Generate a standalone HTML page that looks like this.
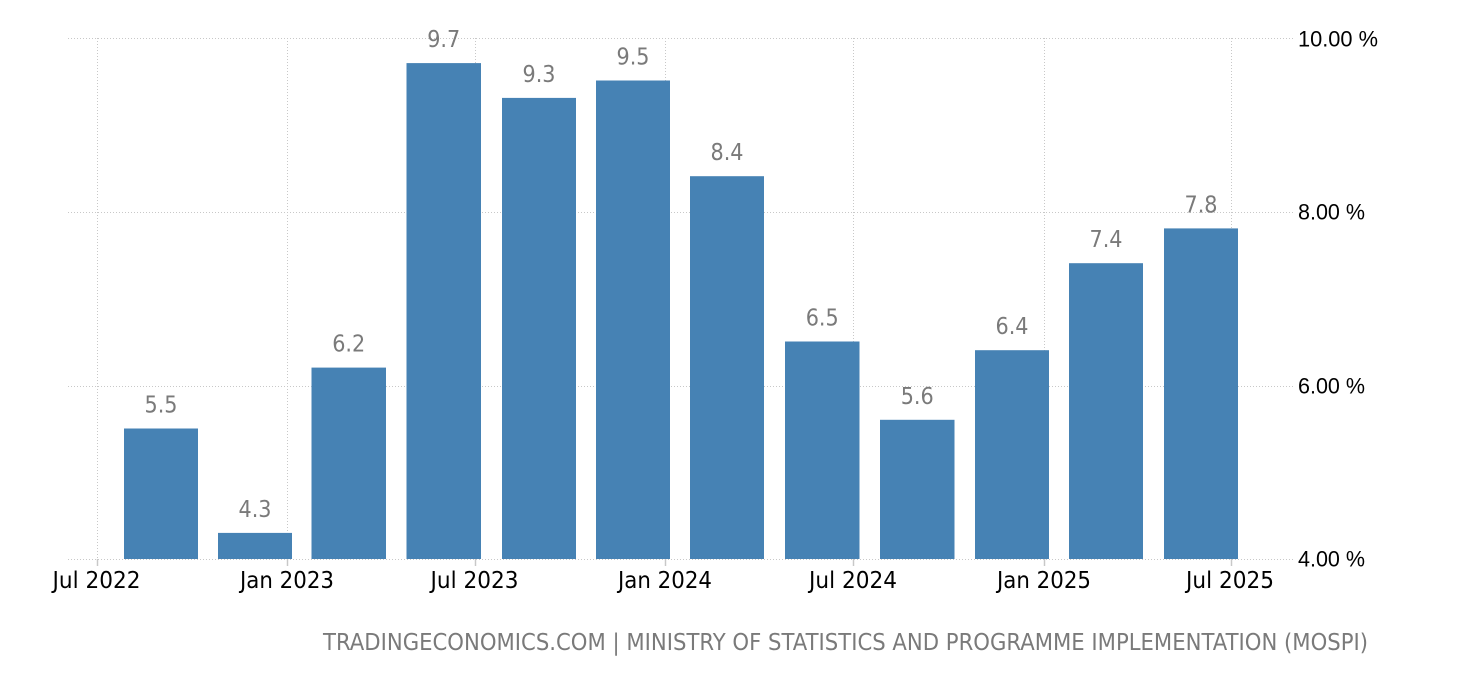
<!DOCTYPE html>
<html>
<head>
<meta charset="utf-8">
<style>
html,body{margin:0;padding:0;background:#fff;}
svg{display:block;}
</style>
</head>
<body>
<svg width="1460" height="680" viewBox="0 0 1460 680" xmlns="http://www.w3.org/2000/svg">
  <rect x="0" y="0" width="1460" height="680" fill="#fff"/>
  <!-- vertical grid lines -->
  <g stroke="#c8c8c8" stroke-width="1" stroke-dasharray="1,2">
    <line x1="97.5" y1="38" x2="97.5" y2="559"/>
    <line x1="287.5" y1="38" x2="287.5" y2="559"/>
    <line x1="475.5" y1="38" x2="475.5" y2="559"/>
    <line x1="665.5" y1="38" x2="665.5" y2="559"/>
    <line x1="853.5" y1="38" x2="853.5" y2="559"/>
    <line x1="1044.5" y1="38" x2="1044.5" y2="559"/>
    <line x1="1231.5" y1="38" x2="1231.5" y2="559"/>
  </g>
  <!-- horizontal grid lines -->
  <g stroke="#c8c8c8" stroke-width="1" stroke-dasharray="1,2">
    <line x1="68" y1="38.5" x2="1293" y2="38.5"/>
    <line x1="68" y1="212.5" x2="1293" y2="212.5"/>
    <line x1="68" y1="386.5" x2="1293" y2="386.5"/>
    <line x1="68" y1="559.5" x2="1293" y2="559.5"/>
  </g>
  <!-- bars -->
  <g fill="#4682b4">
    <rect x="124" y="428.5" width="74" height="130.5"/>
    <rect x="218" y="532.9" width="74" height="26.1"/>
    <rect x="311.5" y="367.6" width="74.5" height="191.4"/>
    <rect x="406.5" y="63.1" width="74.5" height="495.9"/>
    <rect x="502" y="97.9" width="74" height="461.1"/>
    <rect x="596" y="80.5" width="74" height="478.5"/>
    <rect x="690" y="176.2" width="74" height="382.8"/>
    <rect x="785" y="341.5" width="74.5" height="217.5"/>
    <rect x="880" y="419.8" width="74.5" height="139.2"/>
    <rect x="975" y="350.2" width="74" height="208.8"/>
    <rect x="1069" y="263.2" width="74" height="295.8"/>
    <rect x="1164" y="228.4" width="74" height="330.6"/>
  </g>
  <!-- tick marks -->
  <g stroke="#c8c8c8" stroke-width="1.5">
    <line x1="97.5" y1="559" x2="97.5" y2="566"/>
    <line x1="287.5" y1="559" x2="287.5" y2="566"/>
    <line x1="475.5" y1="559" x2="475.5" y2="566"/>
    <line x1="665.5" y1="559" x2="665.5" y2="566"/>
    <line x1="853.5" y1="559" x2="853.5" y2="566"/>
    <line x1="1044.5" y1="559" x2="1044.5" y2="566"/>
    <line x1="1231.5" y1="559" x2="1231.5" y2="566"/>
  </g>
  <!-- data labels -->
  <g font-family="'DejaVu Sans', 'Liberation Sans', sans-serif" font-size="23" fill="#7a7a7a" text-anchor="middle">
    <text x="161" y="412.5" textLength="33" lengthAdjust="spacingAndGlyphs">5.5</text>
    <text x="255" y="516.9" textLength="33" lengthAdjust="spacingAndGlyphs">4.3</text>
    <text x="348.7" y="351.6" textLength="33" lengthAdjust="spacingAndGlyphs">6.2</text>
    <text x="443.7" y="47.1" textLength="33" lengthAdjust="spacingAndGlyphs">9.7</text>
    <text x="539" y="81.9" textLength="33" lengthAdjust="spacingAndGlyphs">9.3</text>
    <text x="633" y="64.5" textLength="33" lengthAdjust="spacingAndGlyphs">9.5</text>
    <text x="727" y="160.2" textLength="33" lengthAdjust="spacingAndGlyphs">8.4</text>
    <text x="822.2" y="325.5" textLength="33" lengthAdjust="spacingAndGlyphs">6.5</text>
    <text x="917.2" y="403.8" textLength="33" lengthAdjust="spacingAndGlyphs">5.6</text>
    <text x="1012" y="334.2" textLength="33" lengthAdjust="spacingAndGlyphs">6.4</text>
    <text x="1106" y="247.2" textLength="33" lengthAdjust="spacingAndGlyphs">7.4</text>
    <text x="1201" y="212.4" textLength="33" lengthAdjust="spacingAndGlyphs">7.8</text>
  </g>
  <!-- x axis labels -->
  <g font-family="'DejaVu Sans', 'Liberation Sans', sans-serif" font-size="23" fill="#000" text-anchor="middle">
    <text x="96.5" y="588" textLength="88" lengthAdjust="spacingAndGlyphs">Jul 2022</text>
    <text x="287" y="588" textLength="94" lengthAdjust="spacingAndGlyphs">Jan 2023</text>
    <text x="474.5" y="588" textLength="88" lengthAdjust="spacingAndGlyphs">Jul 2023</text>
    <text x="665" y="588" textLength="94" lengthAdjust="spacingAndGlyphs">Jan 2024</text>
    <text x="853" y="588" textLength="88" lengthAdjust="spacingAndGlyphs">Jul 2024</text>
    <text x="1044" y="588" textLength="94" lengthAdjust="spacingAndGlyphs">Jan 2025</text>
    <text x="1230" y="588" textLength="88" lengthAdjust="spacingAndGlyphs">Jul 2025</text>
  </g>
  <!-- y axis labels -->
  <g font-family="'Liberation Sans', Arial, sans-serif" font-size="22" fill="#000">
    <text x="1298" y="46.5" textLength="80" lengthAdjust="spacingAndGlyphs">10.00 %</text>
    <text x="1298" y="219.5" textLength="67" lengthAdjust="spacingAndGlyphs">8.00 %</text>
    <text x="1298" y="393.5" textLength="67" lengthAdjust="spacingAndGlyphs">6.00 %</text>
    <text x="1298" y="566.5" textLength="67" lengthAdjust="spacingAndGlyphs">4.00 %</text>
  </g>
  <!-- footer -->
  <text x="323" y="650" font-family="'DejaVu Sans', 'Liberation Sans', sans-serif" font-size="23" fill="#7a7a7a" textLength="1045" lengthAdjust="spacingAndGlyphs">TRADINGECONOMICS.COM | MINISTRY OF STATISTICS AND PROGRAMME IMPLEMENTATION (MOSPI)</text>
</svg>
</body>
</html>
